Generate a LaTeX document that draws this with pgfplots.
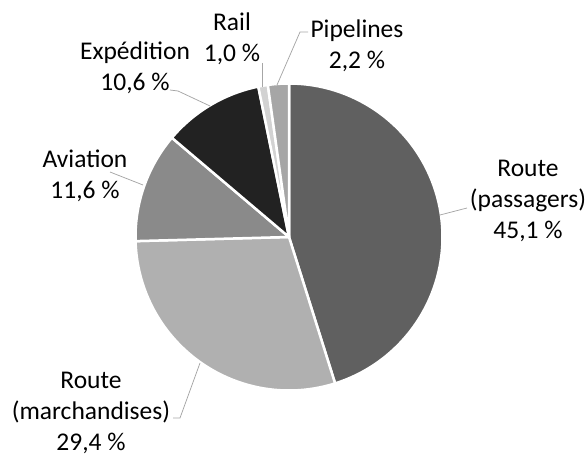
\documentclass[border=0pt]{standalone}
\usepackage{pgfplots}
\pgfplotsset{compat=1.18}
\usepackage{fontspec}
\setmainfont{Carlito}
\definecolor{cA}{HTML}{606060}
\definecolor{cB}{HTML}{B0B0B0}
\definecolor{cC}{HTML}{8A8A8A}
\definecolor{cD}{HTML}{222222}
\definecolor{cE}{HTML}{D2D2D2}
\definecolor{cF}{HTML}{A6A6A6}
\definecolor{leader}{HTML}{A6A6A6}
% shares in percent
\def\vA{45.1}% Route (passagers)
\def\vB{29.4}% Route (marchandises)
\def\vC{11.6}% Aviation
\def\vD{10.6}% Expedition
\def\vE{1.0}% Rail
\def\vF{2.2}% Pipelines
\def\tot{99.9}
\def\cx{289}\def\cy{219}\def\rr{153.5}
\newcommand{\slice}[3]{%
  \addplot[fill=#1, draw=white, line width=2.5pt, line join=round, samples=120, variable=\t,
    domain={90-360*(#2)/\tot}:{90-360*(#3)/\tot}]
    ({\cx+\rr*cos(\t)},{\cy+\rr*sin(\t)}) -- (axis cs:\cx,\cy) -- cycle;}
\begin{document}
\begin{tikzpicture}
\begin{axis}[width=587pt, height=456pt, scale only axis,
  xmin=0, xmax=587, ymin=0, ymax=456, hide axis, clip=false,
  nodes={font=\fontsize{25.5}{31}\selectfont, align=center, text=black}]
\slice{cA}{0}{\vA}
\slice{cB}{\vA}{\vA+\vB}
\slice{cC}{\vA+\vB}{\vA+\vB+\vC}
\slice{cD}{\vA+\vB+\vC}{\vA+\vB+\vC+\vD}
\slice{cE}{\vA+\vB+\vC+\vD}{\vA+\vB+\vC+\vD+\vE}
\slice{cF}{\vA+\vB+\vC+\vD+\vE}{\tot}
% leader lines
\addplot[leader, line width=0.75pt] coordinates {(170,366) (178,365) (210,350)};
\addplot[leader, line width=0.75pt] coordinates {(110,284) (143,271)};
\addplot[leader, line width=0.75pt] coordinates {(262,393) (262,369)};
\addplot[leader, line width=0.75pt] coordinates {(308,424) (300,424) (277,371)};
\addplot[leader, line width=0.75pt] coordinates {(467,248) (440,241)};
\addplot[leader, line width=0.75pt] coordinates {(173,38) (180,38) (200,93)};
% labels
\node at (axis cs:528,255) {Route\\(passagers)\\45,1~\%};
\node at (axis cs:91,43) {Route\\(marchandises)\\29,4~\%};
\node at (axis cs:85,280) {Aviation\\11,6~\%};
\node at (axis cs:135,388) {Expédition\\10,6~\%};
\node at (axis cs:232,417) {Rail\\1,0~\%};
\node at (axis cs:357,410) {Pipelines\\2,2~\%};
\end{axis}
\pgfresetboundingbox
\path (current axis.south west) rectangle (current axis.north east);
\end{tikzpicture}
\end{document}
